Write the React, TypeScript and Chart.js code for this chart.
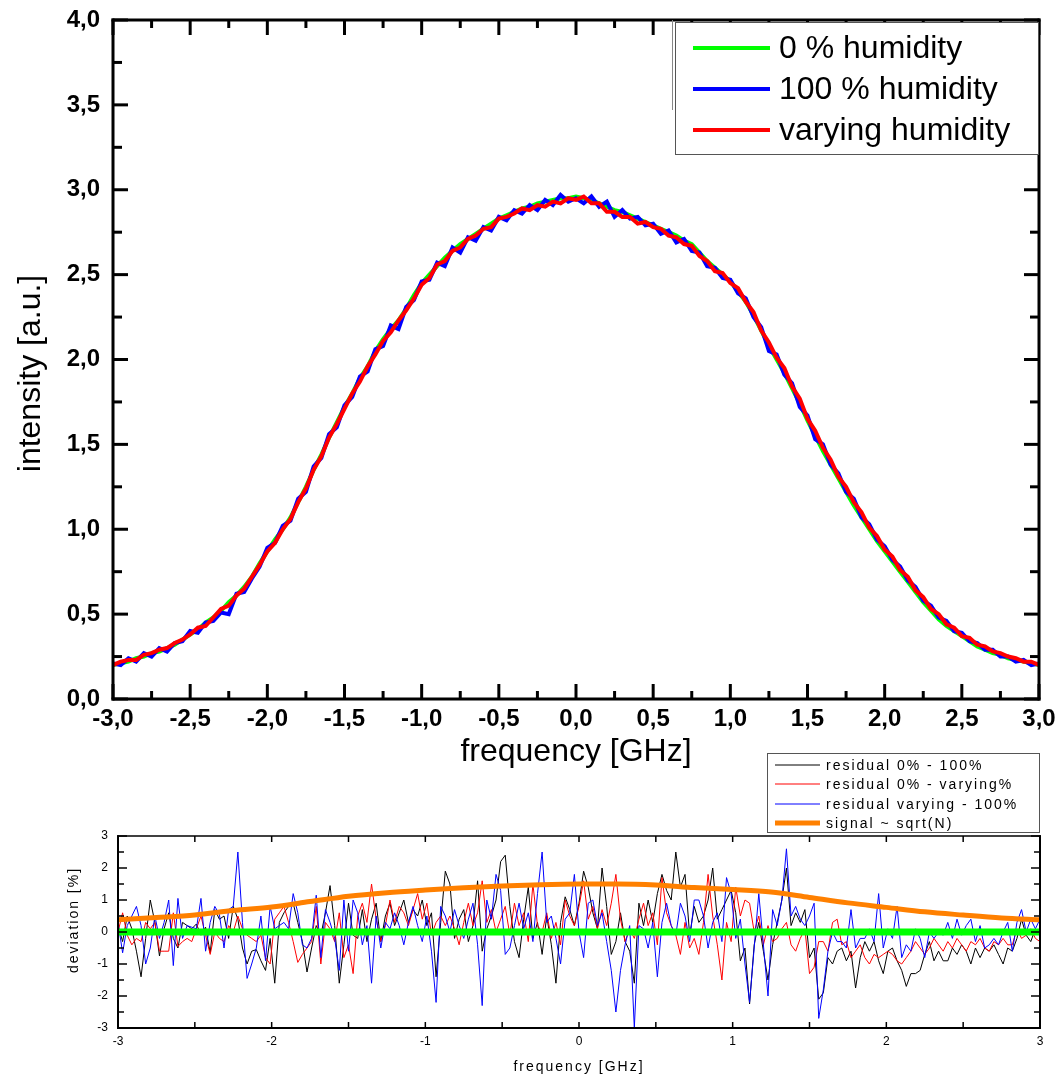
import React, { useEffect, useRef } from 'react';
import { Chart, registerables } from 'chart.js';
Chart.register(...registerables);

const FONT = '"Liberation Sans", Arial, Helvetica, sans-serif';

// ---------- main spectrum (step 0.05 GHz) ----------
const freqMain = Array.from({ length: 121 }, (_, i) => +(-3 + i * 0.05).toFixed(2));
const intensity0 = [
  0.20, 0.21, 0.22, 0.24, 0.25, 0.27, 0.28, 0.30, 0.32, 0.35,
  0.38, 0.41, 0.45, 0.48, 0.52, 0.57, 0.61, 0.66, 0.72, 0.80,
  0.87, 0.94, 1.00, 1.07, 1.16, 1.25, 1.35, 1.44, 1.54, 1.63,
  1.72, 1.80, 1.89, 1.96, 2.05, 2.12, 2.18, 2.23, 2.30, 2.38,
  2.45, 2.50, 2.55, 2.60, 2.64, 2.68, 2.71, 2.74, 2.77, 2.80,
  2.83, 2.85, 2.87, 2.89, 2.90, 2.92, 2.93, 2.94, 2.95, 2.95,
  2.96, 2.95, 2.94, 2.92, 2.90, 2.88, 2.87, 2.85, 2.83, 2.81,
  2.79, 2.77, 2.75, 2.73, 2.70, 2.68, 2.63, 2.58, 2.54, 2.50,
  2.46, 2.40, 2.34, 2.26, 2.17, 2.08, 2.00, 1.92, 1.83, 1.74,
  1.64, 1.55, 1.46, 1.38, 1.30, 1.22, 1.14, 1.07, 1.00, 0.93,
  0.87, 0.81, 0.75, 0.69, 0.63, 0.57, 0.52, 0.47, 0.43, 0.40,
  0.37, 0.34, 0.31, 0.29, 0.27, 0.26, 0.24, 0.23, 0.22, 0.21,
  0.20,
];
const intensity100 = [
  0.21, 0.20, 0.24, 0.22, 0.27, 0.25, 0.30, 0.28, 0.33, 0.34,
  0.40, 0.39, 0.45, 0.46, 0.51, 0.50, 0.62, 0.63, 0.71, 0.78,
  0.89, 0.92, 1.02, 1.05, 1.18, 1.22, 1.37, 1.42, 1.56, 1.60,
  1.73, 1.78, 1.90, 1.93, 2.06, 2.08, 2.20, 2.18, 2.31, 2.35,
  2.46, 2.47, 2.57, 2.55, 2.66, 2.63, 2.72, 2.70, 2.78, 2.76,
  2.84, 2.82, 2.88, 2.86, 2.91, 2.88, 2.94, 2.91, 2.97, 2.93,
  2.95, 2.92, 2.96, 2.90, 2.93, 2.84, 2.88, 2.83, 2.84, 2.79,
  2.80, 2.74, 2.76, 2.69, 2.71, 2.64, 2.63, 2.55, 2.54, 2.48,
  2.47, 2.39, 2.36, 2.25, 2.19, 2.05, 2.03, 1.91, 1.86, 1.72,
  1.67, 1.53, 1.50, 1.38, 1.33, 1.22, 1.18, 1.07, 1.03, 0.94,
  0.90, 0.82, 0.78, 0.70, 0.66, 0.58, 0.55, 0.48, 0.46, 0.40,
  0.39, 0.34, 0.33, 0.29, 0.29, 0.25, 0.25, 0.22, 0.23, 0.20,
  0.21,
];
const intensityVar = [
  0.20, 0.22, 0.23, 0.23, 0.26, 0.27, 0.29, 0.30, 0.33, 0.35,
  0.38, 0.42, 0.43, 0.48, 0.53, 0.55, 0.61, 0.65, 0.72, 0.79,
  0.87, 0.92, 1.00, 1.06, 1.16, 1.24, 1.35, 1.43, 1.54, 1.62,
  1.71, 1.80, 1.87, 1.96, 2.03, 2.11, 2.16, 2.23, 2.29, 2.36,
  2.44, 2.48, 2.56, 2.58, 2.64, 2.66, 2.71, 2.73, 2.77, 2.78,
  2.83, 2.84, 2.86, 2.89, 2.88, 2.91, 2.90, 2.93, 2.92, 2.95,
  2.94, 2.96, 2.92, 2.92, 2.87, 2.87, 2.84, 2.84, 2.80, 2.81,
  2.78, 2.77, 2.73, 2.72, 2.68, 2.67, 2.61, 2.58, 2.52, 2.51,
  2.45, 2.42, 2.34, 2.28, 2.17, 2.10, 2.01, 1.95, 1.84, 1.77,
  1.65, 1.58, 1.48, 1.41, 1.31, 1.25, 1.16, 1.10, 1.01, 0.96,
  0.88, 0.84, 0.76, 0.72, 0.64, 0.60, 0.53, 0.50, 0.44, 0.42,
  0.37, 0.36, 0.32, 0.31, 0.28, 0.27, 0.25, 0.24, 0.22, 0.22,
  0.20,
];

// ---------- residuals (step 0.03 GHz) ----------
const freqRes = Array.from({ length: 201 }, (_, i) => +(-3 + i * 0.03).toFixed(2));
const res0_100 = [
  0.2, -0.3, 0.5, 0.1, -0.6, -1.4, -0.2, 1.0, 0.3, -0.75, 0.1, 0.6, -0.2, -0.5, 0.3, 0.2, 0.1, 0.25, -0.1, 0.15,
  -0.65, 0.7, 0.4, 0.5, -0.2, 0.8, 0.4, -0.5, -1.0, -0.6, -0.55, -0.9, -1.2, -0.2, -1.6, 0.3, 0.6, 0.8, 0.9, 0.3,
  -0.3, -1.25, -0.5, 0.2, -0.1, 0.6, 1.45, 0.2, -1.6, -0.4, 0.9, -0.1, -0.2, 0.7, -0.3, 0.4, 0.9, -0.3, 0.5, 0.9,
  0.2, 0.6, 1.0, 0.3, 0.7, 0.5, 1.0, 0.2, 0.6, -1.4, 0.3, 1.9, 1.5, -0.2, 0.4, 0.7, -0.3, 0.2, 1.6, -0.6,
  0.1, 0.5, 1.0, 2.2, 2.4, 0.8, -0.3, -0.8, 0.4, 1.4, -0.2, 0.3, -0.7, 0.5, -0.4, -1.6, 0.3, 1.1, 0.7, 0.2,
  0.9, 1.9, 1.4, 0.6, 0.1, 2.0, 0.8, -0.7, -0.3, 0.6, -0.3, -0.6, -1.6, 0.9, 0.2, 1.0, 0.3, 1.2, 1.8, 1.3,
  1.0, 2.5, 1.4, 1.8, -0.1, 0.8, 0.3, 0.5, 1.0, 2.0, 0.4, 0.7, 1.0, 1.3, 0.6, -0.9, -0.5, -2.25, -0.4, 0.3,
  -0.6, -1.5, -0.4, 0.3, 1.0, 2.0, 0.2, 0.6, 0.3, 0.7, -0.8, -0.5, -2.1, -1.9, -0.8, -1.0, -0.6, -0.5, -0.9, -0.6,
  -1.75, -0.8, -0.3, -0.6, -0.3, -0.9, -1.3, -0.6, -0.5, -0.9, -1.2, -1.7, -1.3, -1.3, -1.2, -0.7, -0.3, -0.9, -0.6, -0.9,
  -0.9, -0.5, -0.7, -0.4, -0.6, -1.0, -0.5, -0.8, -0.5, -0.6, -0.4, -0.7, -1.0, -0.5, -0.6, -0.2, 0.4, -0.1, -0.3, 0.1,
  0.0,
];
const res0_var = [
  0.0, 0.6, -0.1, -0.4, -0.2, -0.3, 0.3, 0.1, 0.3, -0.6, -0.6, -0.6, 0.6, -0.45, -0.3, -0.2, -0.3, 0.1, 0.5, -0.1,
  -0.7, 0.0, -0.2, -0.3, 0.2, 0.0, 0.5, 0.1, -0.1, -0.2, -0.3, -0.1, -0.8, -1.0, 0.4, 0.6, 0.8, 0.3, -0.3, -0.95,
  -0.7, -0.5, -0.3, 0.8, -1.0, 0.3, 0.1, -0.3, 0.6, -0.8, -0.4, -1.3, 0.5, 0.9, 0.3, 1.5, 0.4, -0.3, 0.2, 1.0,
  0.3, 0.8, 0.6, 0.2, 0.7, 1.2, 0.4, 0.9, -0.1, 0.3, 0.5, 0.2, 0.5, 0.1, -0.4, 0.3, 0.9, 0.2, 0.6, 1.6,
  0.3, 0.7, 0.0, 0.4, 0.8, -0.1, 0.9, 0.2, 0.6, -0.3, 1.5, 0.2, 0.0, 0.6, -0.2, 0.3, -0.4, 1.0, 0.5, 0.2,
  0.8, 1.6, 0.4, 0.8, 0.1, 0.7, 0.2, 0.9, 1.8, 0.4, -0.3, 0.1, -0.2, 0.4, 0.9, 0.2, 0.6, -0.4, 1.7, 0.6,
  0.2, -0.1, -0.7, 0.3, -0.5, -0.2, -0.7, 0.3, 1.8, 0.5, -0.4, -1.5, 0.3, -0.3, 1.4, 0.5, 1.0, 0.9, 0.0, 0.5,
  -0.4, 0.2, -0.3, -0.2, 0.1, 0.3, -0.4, -0.6, -0.2, 0.1, -1.3, -1.1, -0.3, -0.3, -0.6, 0.3, 0.4, -0.4, -0.3, -0.8,
  -0.6, -0.4, -0.8, -1.0, -0.7, -0.8, -0.7, -0.6, -0.7, -0.9, -1.0, -0.8, -0.6, -0.3, -0.5, -0.7, -0.5, -0.2, -0.4, -0.6,
  -0.3, -0.5, -0.2, -0.4, -0.6, -0.3, -0.4, -0.2, -0.5, -0.6, -0.3, -0.4, -0.2, -0.4, -0.4, 0.1, -0.2, -0.1, 0.1, -0.2,
  -0.3,
];
const resVar_100 = [
  0.3, -0.65, 0.2, 0.5, 0.8, 0.2, -1.0, -0.5, 0.5, -0.2, 0.3, 1.0, -1.05, 1.05, -0.2, 0.2, 0.15, 0.1, 1.05, -0.6,
  0.3, 0.8, 0.55, -0.5, 0.7, 0.8, 2.5, 0.3, -1.45, -1.0, -0.5, 0.5, -0.9, 0.8, 0.1, 0.2, 0.3, 0.1, 1.2, 0.6,
  -0.4, -0.5, -0.2, 1.15, -0.8, 0.7, 0.3, -0.2, -1.2, 1.0, -0.6, 1.0, 0.6, -0.4, 0.2, -1.6, 0.5, -0.5, 0.3, 0.1,
  0.6, 0.2, -0.4, 0.3, 0.8, 0.2, -0.3, 0.5, -0.6, -2.2, 0.8, 0.5, 0.0, 0.7, 0.2, -0.2, 0.4, 0.9, -0.4, -2.3,
  1.0, 0.4, 1.8, 1.3, -0.7, -0.5, 0.2, 0.9, 0.1, 0.6, -0.3, 1.2, 2.5, 0.3, 0.5, -0.2, -1.0, 0.4, 0.6, 1.8,
  0.0, -0.8, 0.9, 1.0, 0.2, 0.6, -0.3, -1.2, -2.5, -1.2, -0.4, 0.2, -3.0, 0.2, 0.1, -0.5, 0.3, -1.4, 0.3, 0.9,
  0.2, -0.1, 0.9, 0.5, -0.3, 1.0, 1.0, 0.5, -0.5, 0.3, 0.6, -0.3, 1.7, 1.2, -0.2, 0.4, -1.0, -2.2, -0.5, 1.2,
  -0.4, -2.0, 0.7, 0.2, 1.0, 2.6, 0.5, 0.8, 0.4, 0.2, 0.5, 0.9, -2.7, -1.8, -0.6, 0.0, -0.3, -0.3, -0.5, 0.7,
  -0.5, -0.2, -0.2, 0.1, -0.3, 1.2, -0.5, 0.1, -0.2, 0.8, -0.8, -0.4, -0.6, 0.1, -0.2, -0.8, 0.0, -0.2, 0.0, -0.1,
  0.3, -0.2, 0.4, -0.1, 0.2, 0.4, -0.3, 0.2, -0.5, -0.4, -0.2, -0.4, 0.0, 0.3, -0.6, 0.3, 0.7, 0.0, 0.4, 0.1,
  0.4,
];
const freqSignal = Array.from({ length: 25 }, (_, i) => -3 + i * 0.25);
const signalSqrtN = [
  0.38, 0.45, 0.53, 0.67, 0.78, 0.95, 1.12, 1.23, 1.31, 1.38, 1.44, 1.48, 1.50,
  1.50, 1.47, 1.39, 1.33, 1.25, 1.08, 0.91, 0.77, 0.63, 0.53, 0.44, 0.38,
];
const zeroFreq = [-3, 3];
const zeroValues = [0, 0];

const mainLabels = ['0 % humidity', '100 % humidity', 'varying humidity'];
const resLabels = ['residual 0% - 100%', 'residual 0% - varying%', 'residual varying - 100%', 'signal ~ sqrt(N)'];

const pts = (xs: number[], ys: number[]) => xs.map((x, i) => ({ x, y: ys[i] }));
const comma = (v: number) => Number(v).toFixed(1).replace('.', ',');

type FrameOpts = { lw: number; topLw: number; xMaj: number; xMin: number; yMaj: number; yMin: number; xDiv: number; yDiv: number; tickLw: number };
const makeFrame = (o: FrameOpts) => ({
  id: 'frame',
  afterDatasetsDraw(chart: any) {
    const { ctx, chartArea } = chart;
    const { left, right, top, bottom } = chartArea;
    const xs = chart.scales.x;
    const ys = chart.scales.y;
    ctx.save();
    ctx.strokeStyle = '#000';
    ctx.lineCap = 'butt';
    const line = (x1: number, y1: number, x2: number, y2: number) => {
      ctx.beginPath(); ctx.moveTo(x1, y1); ctx.lineTo(x2, y2); ctx.stroke();
    };
    ctx.lineWidth = o.tickLw;
    const xv: number[] = xs.ticks.map((t: any) => t.value);
    xv.forEach((v, i) => {
      const p = xs.getPixelForValue(v);
      line(p, bottom, p, bottom - o.xMaj); line(p, top, p, top + o.xMaj);
      if (i < xv.length - 1) for (let k = 1; k < o.xDiv; k++) {
        const pm = xs.getPixelForValue(v + ((xv[i + 1] - v) * k) / o.xDiv);
        line(pm, bottom, pm, bottom - o.xMin); line(pm, top, pm, top + o.xMin);
      }
    });
    const yv: number[] = ys.ticks.map((t: any) => t.value);
    yv.forEach((v, i) => {
      const p = ys.getPixelForValue(v);
      line(left, p, left + o.yMaj, p); line(right, p, right - o.yMaj, p);
      if (i < yv.length - 1) for (let k = 1; k < o.yDiv; k++) {
        const pm = ys.getPixelForValue(v + ((yv[i + 1] - v) * k) / o.yDiv);
        line(left, pm, left + o.yMin, pm); line(right, pm, right - o.yMin, pm);
      }
    });
    ctx.lineWidth = o.lw;
    const h = o.lw / 2;
    line(left, top - (o.topLw / 2), left, bottom + h);
    line(left - h, bottom, right + h, bottom);
    line(right, top - (o.topLw / 2), right, bottom + h);
    ctx.lineWidth = o.topLw;
    line(left - h, top, right + h, top);
    ctx.restore();
  },
});

type LegendOpts = {
  order: number[]; width: number; height: number; topOff: number; rows: number[];
  lx0: number; lx1: number; tx: number; font: string; ls: string; lineW: number[]; ghost?: boolean;
};
const makeLegend = (o: LegendOpts) => ({
  id: 'boxLegend',
  afterDraw(chart: any) {
    const { ctx, chartArea } = chart;
    const bx = chartArea.right - o.width;
    const by = chartArea.top + o.topOff;
    ctx.save();
    if (o.ghost) {
      ctx.strokeStyle = '#888';
      ctx.lineWidth = 1;
      ctx.beginPath(); ctx.moveTo(bx - 2.5, chartArea.top); ctx.lineTo(bx - 2.5, by + 88); ctx.stroke();
    }
    ctx.fillStyle = '#fff';
    ctx.fillRect(bx, by, o.width, o.height);
    ctx.strokeStyle = '#555';
    ctx.lineWidth = 1;
    ctx.strokeRect(bx + 0.5, by + 0.5, o.width - 1, o.height - 1);
    ctx.font = o.font;
    (ctx as any).letterSpacing = o.ls;
    ctx.textBaseline = 'middle';
    ctx.textAlign = 'left';
    o.order.forEach((di, r) => {
      const ds = chart.data.datasets[di];
      const y = by + o.rows[r];
      ctx.strokeStyle = ds.borderColor;
      ctx.lineWidth = o.lineW[r];
      ctx.beginPath(); ctx.moveTo(bx + o.lx0, y); ctx.lineTo(bx + o.lx1, y); ctx.stroke();
      ctx.fillStyle = '#000';
      ctx.fillText(ds.label, bx + o.tx, y + 1);
    });
    ctx.restore();
  },
});

type TitleOpts = { xText: string; yText: string; font: string; ls: string; xDy: number; yDx: number; yDy: number };
const makeTitles = (o: TitleOpts) => ({
  id: 'axisTitles',
  afterDraw(chart: any) {
    const { ctx, chartArea } = chart;
    const cx = (chartArea.left + chartArea.right) / 2;
    const cy = (chartArea.top + chartArea.bottom) / 2;
    ctx.save();
    ctx.font = o.font;
    (ctx as any).letterSpacing = o.ls;
    ctx.fillStyle = '#000';
    ctx.textAlign = 'center';
    ctx.textBaseline = 'middle';
    ctx.fillText(o.xText, cx, chartArea.bottom + o.xDy);
    ctx.translate(chartArea.left + o.yDx, cy + o.yDy);
    ctx.rotate(-Math.PI / 2);
    ctx.fillText(o.yText, 0, 0);
    ctx.restore();
  },
});

export default function App() {
  const topRef = useRef<HTMLCanvasElement>(null);
  const botRef = useRef<HTMLCanvasElement>(null);

  useEffect(() => {
    const line = (label: string, xs: number[], ys: number[], color: string, w: number, order: number, extra: any = {}) => ({
      label, data: pts(xs, ys), borderColor: color, backgroundColor: color, borderWidth: w,
      pointRadius: 0, tension: 0, fill: false, order, ...extra,
    });

    const c1 = new Chart(topRef.current as HTMLCanvasElement, {
      type: 'line',
      data: {
        datasets: [
          line(mainLabels[0], freqMain, intensity0, '#00ff00', 4, 2),
          line(mainLabels[1], freqMain, intensity100, '#0000ff', 4, 1),
          line(mainLabels[2], freqMain, intensityVar, '#ff0000', 4, 0),
        ],
      },
      options: {
        responsive: false,
        animation: false,
        devicePixelRatio: 1,
        layout: { padding: { top: 20, right: 24, left: 0, bottom: 0 } },
        plugins: { legend: { display: false }, tooltip: { enabled: false } },
        scales: {
          x: {
            type: 'linear', min: -3, max: 3,
            grid: { display: false, drawTicks: false }, border: { display: false },
            ticks: { stepSize: 0.5, autoSkip: false, maxRotation: 0, padding: 6, color: '#000',
              font: { family: FONT, size: 24, weight: 'bold' }, callback: (v: any) => comma(v) },
            afterFit: (s: any) => { s.height = 101; s.paddingLeft = 0; s.paddingRight = 0; },
          },
          y: {
            type: 'linear', min: 0, max: 4,
            grid: { display: false, drawTicks: false }, border: { display: false },
            ticks: { stepSize: 0.5, autoSkip: false, padding: 13, color: '#000',
              font: { family: FONT, size: 24, weight: 'bold' }, callback: (v: any) => comma(v) },
            afterFit: (s: any) => { s.width = 113; s.paddingTop = 0; s.paddingBottom = 0; },
          },
        },
      } as any,
      plugins: [
        makeFrame({ lw: 3, topLw: 3, xMaj: 15, xMin: 8, yMaj: 15, yMin: 9, xDiv: 2, yDiv: 2, tickLw: 3 }),
        makeLegend({ order: [0, 1, 2], width: 364, height: 133, topOff: 2, rows: [26, 67, 108],
          lx0: 18, lx1: 95, tx: 104, font: `32px ${FONT}`, ls: '0px', lineW: [4, 4, 4], ghost: true }),
        makeTitles({ xText: 'frequency [GHz]', yText: 'intensity [a.u.]', font: `32px ${FONT}`, ls: '0px',
          xDy: 53, yDx: -82, yDy: 14 }),
      ] as any,
    });

    const c2 = new Chart(botRef.current as HTMLCanvasElement, {
      type: 'line',
      data: {
        datasets: [
          line(resLabels[0], freqRes, res0_100, '#000000', 1, 4),
          line(resLabels[1], freqRes, res0_var, '#ff0000', 1, 3),
          line(resLabels[2], freqRes, resVar_100, '#0000ff', 1, 2),
          line(resLabels[3], freqSignal, signalSqrtN, '#ff8000', 5, 1, { cubicInterpolationMode: 'monotone' }),
          line('zero', zeroFreq, zeroValues, '#00ff00', 7, 0),
        ],
      },
      options: {
        responsive: false,
        animation: false,
        devicePixelRatio: 1,
        layout: { padding: { top: 91, right: 23, left: 0, bottom: 0 } },
        plugins: { legend: { display: false }, tooltip: { enabled: false } },
        scales: {
          x: {
            type: 'linear', min: -3, max: 3,
            grid: { display: false, drawTicks: false }, border: { display: false },
            ticks: { stepSize: 1, autoSkip: false, maxRotation: 0, padding: 6, color: '#000',
              font: { family: FONT, size: 12 }, callback: (v: any) => String(v) },
            afterFit: (s: any) => { s.height = 49; s.paddingLeft = 0; s.paddingRight = 0; },
          },
          y: {
            type: 'linear', min: -3, max: 3,
            grid: { display: false, drawTicks: false }, border: { display: false },
            ticks: { stepSize: 1, autoSkip: false, padding: 10, color: '#000',
              font: { family: FONT, size: 12 }, callback: (v: any) => String(v) },
            afterFit: (s: any) => { s.width = 118; s.paddingTop = 0; s.paddingBottom = 0; },
          },
        },
      } as any,
      plugins: [
        makeFrame({ lw: 2, topLw: 1.5, xMaj: 6, xMin: 6, yMaj: 9, yMin: 6, xDiv: 2, yDiv: 2, tickLw: 1.5 }),
        makeLegend({ order: [0, 1, 2, 3], width: 273, height: 80, topOff: -83, rows: [12, 31, 51, 70],
          lx0: 8, lx1: 53, tx: 59, font: `14px ${FONT}`, ls: '2px', lineW: [1, 1, 1, 5] }),
        makeTitles({ xText: 'frequency [GHz]', yText: 'deviation [%]', font: `14px ${FONT}`, ls: '2px',
          xDy: 39, yDx: -44, yDy: -12 }),
      ] as any,
    });

    return () => { c1.destroy(); c2.destroy(); };
  }, []);

  return (
    <div style={{ position: 'absolute', left: 0, top: 0, width: 1063, height: 1077, background: '#fff', overflow: 'hidden' }}>
      <canvas ref={topRef} width={1063} height={800} style={{ position: 'absolute', left: 0, top: 0 }} />
      <canvas ref={botRef} width={1063} height={332} style={{ position: 'absolute', left: 0, top: 745 }} />
    </div>
  );
}
